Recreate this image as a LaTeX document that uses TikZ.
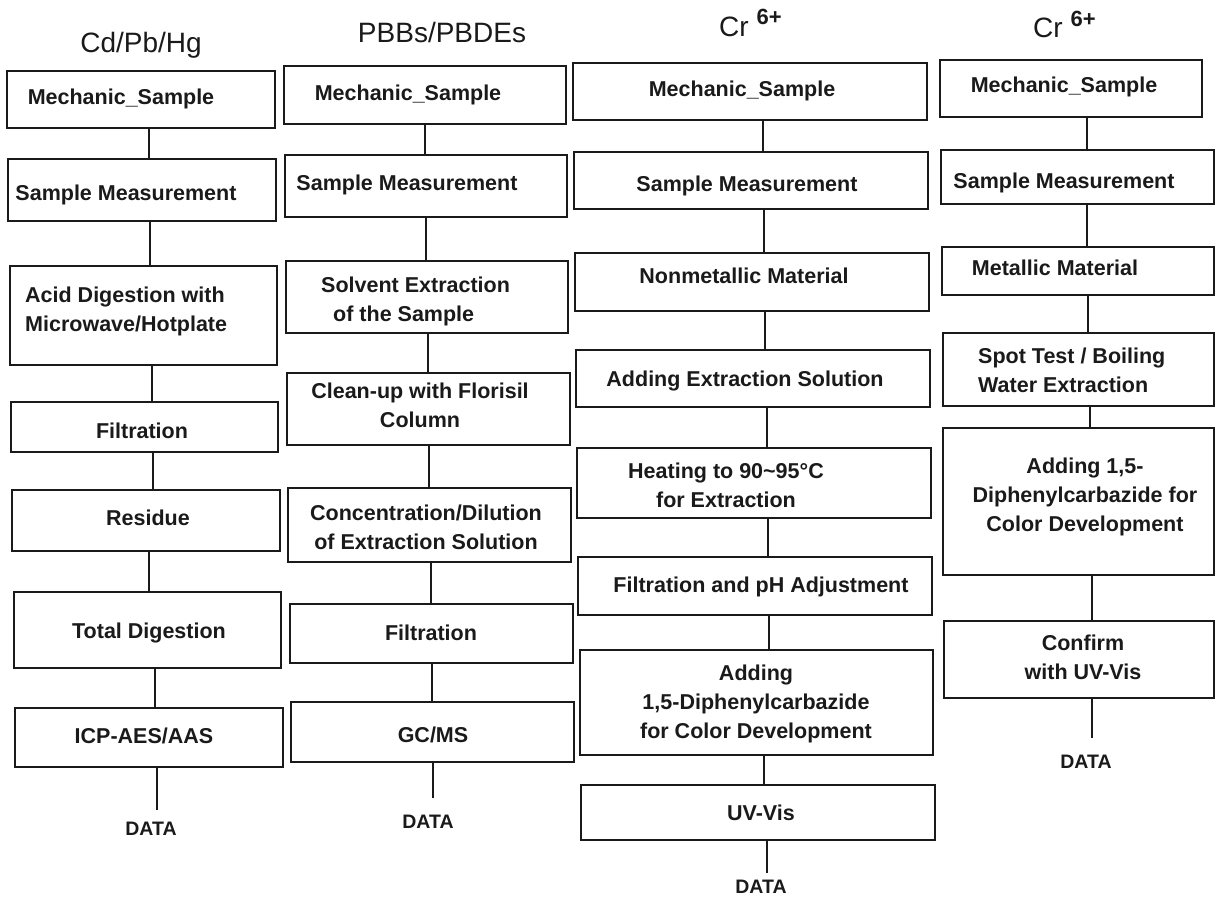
\documentclass[tikz,border=0pt]{standalone}
\usepackage{fontspec}
\setmainfont{Liberation Sans}
\usetikzlibrary{fit}
\definecolor{ink}{HTML}{1A1A1A}
\begin{document}
\begin{tikzpicture}[x=1pt,y=-1pt,
  box/.style={draw=ink, line width=2.3pt, inner sep=0pt},
  link/.style={draw=ink, line width=2.1pt},
  txt/.style={inner sep=0pt, text=ink, font=\fontsize{21.5}{29}\selectfont\bfseries, align=center},
  ttl/.style={inner sep=0pt, text=ink, font=\fontsize{28}{32}\selectfont},
  dat/.style={inner sep=0pt, text=ink, font=\fontsize{19.5}{24}\selectfont\bfseries}]
\useasboundingbox (0,0) rectangle (1216,899);
\fill[white] (0,0) rectangle (1216,899);

% ---------- titles ----------
\node[ttl, anchor=north] (t1) at (141,32) {Cd/Pb/Hg};
\node[ttl, anchor=north] (t2) at (442,22) {PBBs/PBDEs};
\node[ttl, anchor=base west] (t3) at (719,37) {Cr\ \raisebox{12pt}{\fontsize{22}{22}\selectfont\bfseries 6+}};
\node[ttl, anchor=base west] (t4) at (1033,38) {Cr\ \raisebox{12pt}{\fontsize{22}{22}\selectfont\bfseries 6+}};

% ---------- column 1 ----------
\node[box, fit={(7,71) (275,128)}] (a1) {};
\node[txt, anchor=north] (a1t) at (121,89) {Mechanic\_Sample};
\node[box, fit={(8,159) (276,221)}] (a2) {};
\node[txt, anchor=north] (a2t) at (126,185) {Sample Measurement};
\node[box, fit={(10,266) (277,365)}] (a3) {};
\node[txt, align=left, anchor=north west] (a3t) at (25,287) {Acid Digestion with\\Microwave/Hotplate};
\node[box, fit={(11,402) (278,452)}] (a4) {};
\node[txt, anchor=north] (a4t) at (142,423) {Filtration};
\node[box, fit={(12,490) (280,551)}] (a5) {};
\node[txt, anchor=north] (a5t) at (148,510) {Residue};
\node[box, fit={(14,592) (281,668)}] (a6) {};
\node[txt, anchor=north] (a6t) at (149,623) {Total Digestion};
\node[box, fit={(15,708) (283,767)}] (a7) {};
\node[txt, anchor=north] (a7t) at (144,728) {ICP-AES/AAS};
\node[dat, anchor=north] (ad) at (151,822) {DATA};

\draw[link] (a1.south -| 149,0) -- (a2.north -| 149,0);
\draw[link] (a2.south -| 150,0) -- (a3.north -| 150,0);
\draw[link] (a3.south -| 152,0) -- (a4.north -| 152,0);
\draw[link] (a4.south -| 153,0) -- (a5.north -| 153,0);
\draw[link] (a5.south -| 149,0) -- (a6.north -| 149,0);
\draw[link] (a6.south -| 155,0) -- (a7.north -| 155,0);
\draw[link, shorten >=12pt] (a7.south -| 157,0) -- (ad.north -| 157,0);

% ---------- column 2 ----------
\node[box, fit={(284,66) (566,124)}] (b1) {};
\node[txt, anchor=north] (b1t) at (408,85) {Mechanic\_Sample};
\node[box, fit={(285,155) (567,217)}] (b2) {};
\node[txt, anchor=north] (b2t) at (407,175) {Sample Measurement};
\node[box, fit={(286,261) (568,333)}] (b3) {};
\node[txt, align=left, anchor=north west] (b3t) at (321,277) {Solvent Extraction\\\hspace*{12pt}of the Sample};
\node[box, fit={(287,373) (570,445)}] (b4) {};
\node[txt, anchor=north] (b4t) at (420,383) {Clean-up with Florisil\\Column};
\node[box, fit={(288,488) (571,562)}] (b5) {};
\node[txt, anchor=north] (b5t) at (426,505) {Concentration/Dilution\\of Extraction Solution};
\node[box, fit={(290,604) (573,663)}] (b6) {};
\node[txt, anchor=north] (b6t) at (431,625) {Filtration};
\node[box, fit={(291,702) (574,762)}] (b7) {};
\node[txt, anchor=north] (b7t) at (433,727) {GC/MS};
\node[dat, anchor=north] (bd) at (428,815) {DATA};

\draw[link] (b1.south -| 425,0) -- (b2.north -| 425,0);
\draw[link] (b2.south -| 426,0) -- (b3.north -| 426,0);
\draw[link] (b3.south -| 428,0) -- (b4.north -| 428,0);
\draw[link] (b4.south -| 429,0) -- (b5.north -| 429,0);
\draw[link] (b5.south -| 431,0) -- (b6.north -| 431,0);
\draw[link] (b6.south -| 432,0) -- (b7.north -| 432,0);
\draw[link, shorten >=17pt] (b7.south -| 433,0) -- (bd.north -| 433,0);

% ---------- column 3 ----------
\node[box, fit={(573,63) (927,120)}] (c1) {};
\node[txt, anchor=north] (c1t) at (742,81) {Mechanic\_Sample};
\node[box, fit={(574,152) (928,209)}] (c2) {};
\node[txt, anchor=north] (c2t) at (747,176) {Sample Measurement};
\node[box, fit={(575,253) (929,311)}] (c3) {};
\node[txt, anchor=north] (c3t) at (744,268) {Nonmetallic Material};
\node[box, fit={(576,350) (930,407)}] (c4) {};
\node[txt, anchor=north] (c4t) at (745,371) {Adding Extraction Solution};
\node[box, fit={(577,448) (931,518)}] (c5) {};
\node[txt, anchor=north] (c5t) at (726,463) {Heating to 90\textasciitilde 95°C\\for Extraction};
\node[box, fit={(578,557) (932,615)}] (c6) {};
\node[txt, anchor=north] (c6t) at (761,577) {Filtration and pH Adjustment};
\node[box, fit={(580,650) (933,755)}] (c7) {};
\node[txt, anchor=north] (c7t) at (756,665) {Adding\\1,5-Diphenylcarbazide\\for Color Development};
\node[box, fit={(581,785) (935,840)}] (c8) {};
\node[txt, anchor=north] (c8t) at (761,805) {UV-Vis};
\node[dat, anchor=north] (cd) at (761,880) {DATA};

\draw[link] (c1.south -| 763,0) -- (c2.north -| 763,0);
\draw[link] (c2.south -| 764,0) -- (c3.north -| 764,0);
\draw[link] (c3.south -| 765,0) -- (c4.north -| 765,0);
\draw[link] (c4.south -| 767,0) -- (c5.north -| 767,0);
\draw[link] (c5.south -| 768,0) -- (c6.north -| 768,0);
\draw[link] (c6.south -| 769,0) -- (c7.north -| 769,0);
\draw[link] (c7.south -| 764,0) -- (c8.north -| 764,0);
\draw[link, shorten >=7pt] (c8.south -| 767,0) -- (cd.north -| 767,0);

% ---------- column 4 ----------
\node[box, fit={(940,60) (1202,117)}] (d1) {};
\node[txt, anchor=north] (d1t) at (1064,77) {Mechanic\_Sample};
\node[box, fit={(941,150) (1214,204)}] (d2) {};
\node[txt, anchor=north] (d2t) at (1064,173) {Sample Measurement};
\node[box, fit={(942,247) (1214,295)}] (d3) {};
\node[txt, anchor=north] (d3t) at (1055,260) {Metallic Material};
\node[box, fit={(943,333) (1214,406)}] (d4) {};
\node[txt, align=left, anchor=north west] (d4t) at (978,348) {Spot Test / Boiling\\Water Extraction};
\node[box, fit={(943,428) (1214,575)}] (d5) {};
\node[txt, anchor=north] (d5t) at (1085,458) {Adding 1,5-\\Diphenylcarbazide for\\Color Development};
\node[box, fit={(944,621) (1214,698)}] (d6) {};
\node[txt, anchor=north] (d6t) at (1083,635) {Confirm\\with UV-Vis};
\node[dat, anchor=north] (dd) at (1086,755) {DATA};

\draw[link] (d1.south -| 1087,0) -- (d2.north -| 1087,0);
\draw[link] (d2.south -| 1087,0) -- (d3.north -| 1087,0);
\draw[link] (d3.south -| 1088,0) -- (d4.north -| 1088,0);
\draw[link] (d4.south -| 1090,0) -- (d5.north -| 1090,0);
\draw[link] (d5.south -| 1092,0) -- (d6.north -| 1092,0);
\draw[link, shorten >=17pt] (d6.south -| 1092,0) -- (dd.north -| 1092,0);
\end{tikzpicture}
\end{document}
